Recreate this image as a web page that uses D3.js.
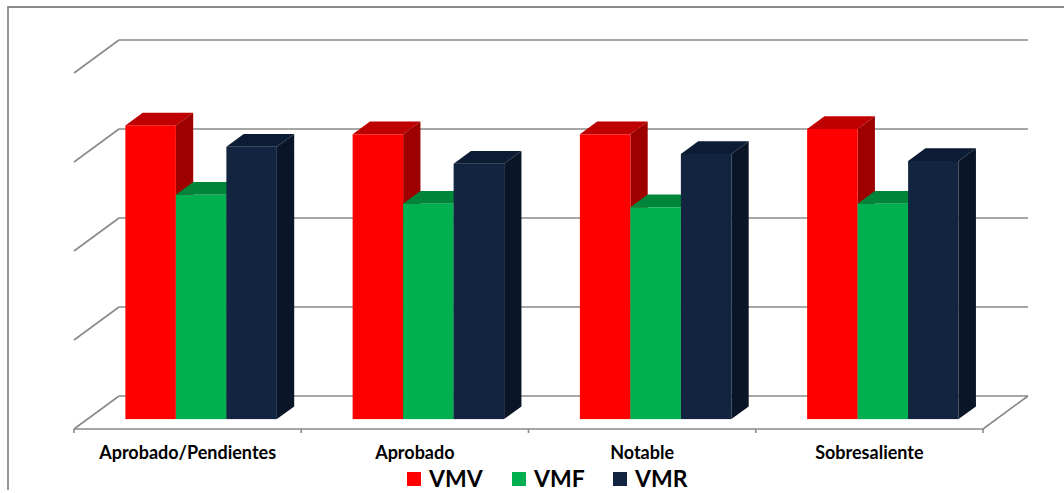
<!DOCTYPE html>
<html>
<head>
<meta charset="utf-8">
<script src="https://cdn.jsdelivr.net/npm/d3@7"></script>
<style>
  html, body { margin: 0; padding: 0; background: #fff; }
  svg { display: block; }
</style>
</head>
<body>
<svg id="chart" width="1064" height="493"></svg>
<script>
// Categories and series values
const categories = ["Aprobado/Pendientes", "Aprobado", "Notable", "Sobresaliente"];
const seriesNames = ["VMV", "VMF", "VMR"];
const vmv = [3.30, 3.20, 3.20, 3.26];
const vmf = [2.52, 2.42, 2.38, 2.42];
const vmr = [3.06, 2.87, 2.98, 2.90];
const gridTicks = [0, 1, 2, 3, 4];

const seriesValues = [vmv, vmf, vmr];
const palette = {
  VMV: { front: "#ff0000", top: "#bf0000", side: "#9e0000" },
  VMF: { front: "#00b050", top: "#00863b", side: "#00642c" },
  VMR: { front: "#12243f", top: "#0c1c34", side: "#0a1628" }
};

const svg = d3.select("#chart");

// Oblique 3D frame: front floor edge and full depth offset
const floorFront = 429;
const depthX = 45, depthY = 33;
const left = 74, right = 983;

const x = d3.scaleBand().domain(categories).range([left, right]).paddingInner(0).paddingOuter(0);
const inner = d3.scaleBand().domain(seriesNames)
  .range([0, x.bandwidth()]).paddingInner(0).paddingOuter(0.75);
const h = d3.scaleLinear().domain([0, 4]).range([0, 356]);

// Depth position helper: fraction 0 = front plane, 1 = back wall
const shift = d => [depthX * d, -depthY * d];

// Outer frame
svg.append("path")
  .attr("d", "M8,490 V7 H1064")
  .attr("fill", "none").attr("stroke", "#8c8c8c").attr("stroke-width", 1.8);

const grid = svg.append("g").attr("fill", "none").attr("stroke", "#8a8a8a").attr("stroke-width", 1.6);

// Back wall gridlines with the matching side wall diagonals
gridTicks.forEach(t => {
  const yBack = floorFront - depthY - h(t);
  const yFront = floorFront - h(t);
  grid.append("line")
    .attr("x1", left + depthX).attr("x2", right + depthX)
    .attr("y1", yBack).attr("y2", yBack);
  grid.append("line")
    .attr("x1", left).attr("y1", yFront)
    .attr("x2", left + depthX).attr("y2", yBack);
});

// Floor: right edge and front edge
grid.append("line")
  .attr("x1", right).attr("y1", floorFront)
  .attr("x2", right + depthX).attr("y2", floorFront - depthY);
grid.append("line")
  .attr("x1", left).attr("x2", right)
  .attr("y1", floorFront).attr("y2", floorFront);

// Category tick marks on the front edge
const tickXs = categories.map(c => x(c)).concat([right]);
grid.selectAll("line.tick").data(tickXs).enter().append("line")
  .attr("class", "tick")
  .attr("x1", d => d).attr("x2", d => d)
  .attr("y1", floorFront).attr("y2", floorFront + 4);

// Bars: front face sits 30% into the depth, bar depth 38.5%
const barFront = 0.3, barDepth = 0.385;
const bars = svg.append("g");

categories.forEach((cat, ci) => {
  seriesNames.forEach((s, si) => {
    const v = seriesValues[si][ci];
    const [ox, oy] = shift(barFront);
    const x0 = x(cat) + inner(s) + ox;
    const x1 = x0 + inner.bandwidth();
    const yb = floorFront + oy;
    const yt = yb - h(v);
    const [dx, dy] = shift(barDepth);
    const col = palette[s];
    const g = bars.append("g");
    // top face
    g.append("path")
      .attr("d", `M${x0},${yt} L${x1},${yt} L${x1 + dx},${yt + dy} L${x0 + dx},${yt + dy} Z`)
      .attr("fill", col.top);
    // right side face
    g.append("path")
      .attr("d", `M${x1},${yt} L${x1 + dx},${yt + dy} L${x1 + dx},${yb + dy} L${x1},${yb} Z`)
      .attr("fill", col.side);
    // front face
    g.append("rect")
      .attr("x", x0).attr("y", yt)
      .attr("width", x1 - x0).attr("height", yb - yt)
      .attr("fill", col.front);
  });
});

// Category labels
svg.append("g").selectAll("text").data(categories).enter().append("text")
  .attr("x", d => x(d) + x.bandwidth() / 2)
  .attr("y", 459)
  .attr("text-anchor", "middle")
  .attr("font-family", "Lato, 'Open Sans', sans-serif")
  .attr("font-weight", "bold")
  .attr("font-size", 18)
  .attr("fill", "#000")
  .text(d => d);

// Legend
const legendX = [407, 512, 613];
const legend = svg.append("g");
seriesNames.forEach((s, i) => {
  legend.append("rect")
    .attr("x", legendX[i]).attr("y", 472)
    .attr("width", 14).attr("height", 14)
    .attr("fill", palette[s].front);
  legend.append("text")
    .attr("x", legendX[i] + 22).attr("y", 487)
    .attr("font-family", "Lato, 'Open Sans', sans-serif")
    .attr("font-weight", "bold")
    .attr("font-size", 23)
    .attr("fill", "#000")
    .text(s);
});
</script>
</body>
</html>
